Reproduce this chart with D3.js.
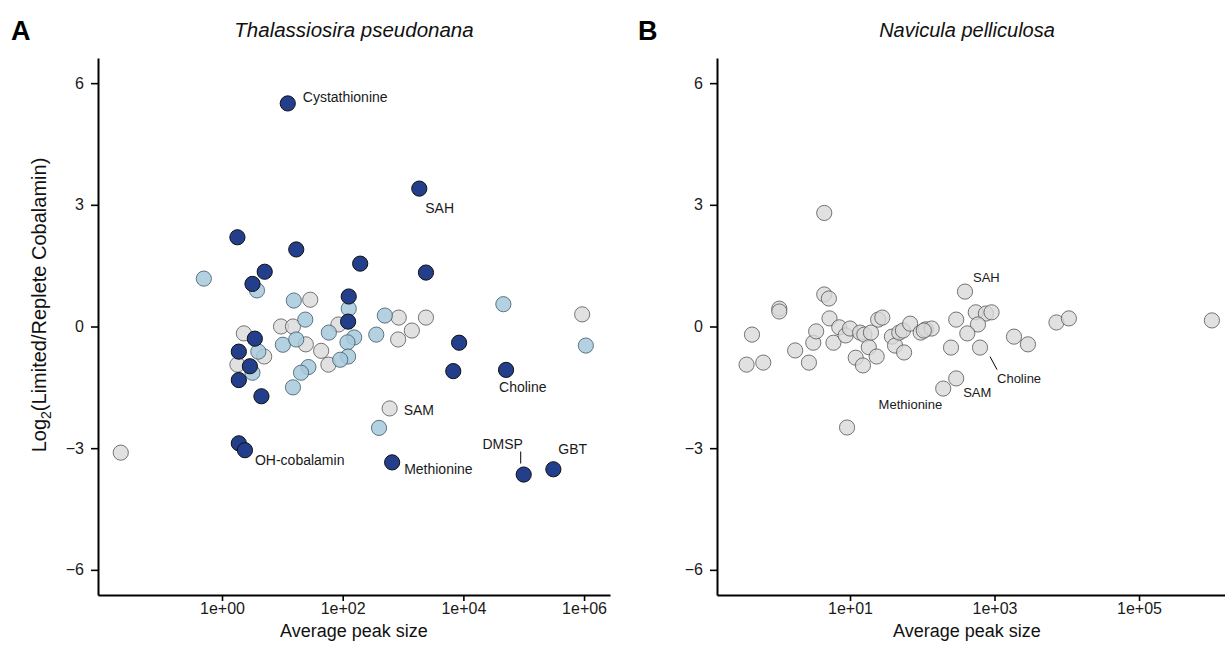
<!DOCTYPE html>
<html>
<head>
<meta charset="utf-8">
<script src="https://cdn.jsdelivr.net/npm/d3@7"></script>
<style>
  html, body { margin: 0; padding: 0; background: #fff; }
  svg { display: block; font-family: "Liberation Sans", Arial, Helvetica, sans-serif; }
</style>
</head>
<body>
<svg id="chart" width="1225" height="658"></svg>
<script>
// ---------------- DATA ----------------
// Panel A: Thalassiosira pseudonana
const tpPeak = [
  // grey
  0.021, 600, 930000, 2.3, 1.8, 5.0, 9.5, 29, 15, 24.5, 44, 58, 85, 850, 1400, 830, 2400,
  // light blue
  0.5, 3.8, 15.5, 126, 24, 500, 59, 360, 155, 120, 10.2, 17, 123, 91, 27, 20.4, 15, 3.2, 4.0, 400, 46000, 1070000,
  // dark navy
  12.3, 1860, 1.8, 17, 195, 5.1, 2400, 3.2, 126, 123, 3.5, 1.9, 2.9, 1.9, 4.5, 8500, 6800, 51000, 1.9, 2.4, 660, 100000, 310000
];
const tpLog2FC = [
  -3.11, -2.02, 0.30, -0.17, -0.94, -0.74, 0.00, 0.66, 0.00, -0.44, -0.60, -0.94, 0.05, 0.22, -0.10, -0.32, 0.22,
  1.18, 0.89, 0.64, 0.44, 0.17, 0.27, -0.15, -0.20, -0.27, -0.39, -0.45, -0.32, -0.74, -0.82, -1.00, -1.14, -1.50, -1.14, -0.62, -2.50, 0.55, -0.47,
  5.50, 3.40, 2.20, 1.90, 1.55, 1.35, 1.33, 1.05, 0.74, 0.12, -0.30, -0.62, -0.98, -1.32, -1.72, -0.40, -1.10, -1.07, -2.88, -3.05, -3.35, -3.65, -3.52
];
const tpGroup = [].concat(
  Array(17).fill("grey"),
  Array(22).fill("light"),
  Array(23).fill("dark")
);
const tpName = [
  "", "SAM", "", "", "", "", "", "", "", "", "", "", "", "", "", "", "",
  "", "", "", "", "", "", "", "", "", "", "", "", "", "", "", "", "", "", "", "", "", "",
  "Cystathionine", "SAH", "", "", "", "", "", "", "", "", "", "", "", "", "", "", "", "Choline", "", "OH-cobalamin", "Methionine", "DMSP", "GBT"
];

// Panel B: Navicula pelliculosa
const npPeak = [
  4.4, 4.4, 5.1, 1.05, 1.05, 0.44, 0.37, 0.63, 1.74, 2.7, 3.1, 3.4, 5.2, 5.9, 7.1, 8.7, 10, 12, 13.8, 15.1,
  15.8, 18.2, 19.5, 23.4, 24.5, 28, 9.1, 38, 42, 48, 54, 56, 68, 95, 112, 135, 105,
  195, 295, 390, 295, 550, 760, 910, 590, 420, 250, 630, 1860, 2900, 7200, 10700, 1020000
];
const npLog2FC = [
  2.80, 0.79, 0.69, 0.44, 0.37, -0.20, -0.94, -0.89, -0.59, -0.89, -0.40, -0.12, 0.20, -0.40, -0.02, -0.22, -0.05, -0.77, -0.15, -0.96,
  -0.20, -0.51, -0.15, -0.74, 0.17, 0.22, -2.49, -0.25, -0.47, -0.15, -0.10, -0.64, 0.07, -0.15, -0.07, -0.05, -0.10,
  -1.53, -1.28, 0.86, 0.17, 0.35, 0.32, 0.35, 0.05, -0.17, -0.52, -0.52, -0.25, -0.44, 0.10, 0.20, 0.15
];
const npName = npPeak.map(() => "");
npName[37] = "Methionine"; npName[38] = "SAM"; npName[39] = "SAH"; npName[47] = "Choline";

const yTicks = [-6, -3, 0, 3, 6];
const tpXTicks = [1e0, 1e2, 1e4, 1e6];
const npXTicks = [1e1, 1e3, 1e5];
const titles = ["Thalassiosira pseudonana", "Navicula pelliculosa"];
const panelLetters = ["A", "B"];
const xTitle = "Average peak size";

// ---------------- STYLE / LAYOUT ----------------
const fills = { grey: "#d9d9d9", light: "#a7c9dc", dark: "#233e8b" };
const strokes = { grey: "#555", light: "#3f5866", dark: "#111" };
const opac = { grey: 0.78, light: 0.85, dark: 1 };
const R = 7.6;

// label offsets (pixels relative to point)
const labelLayout = {
  A: {
    "Cystathionine": { dx: 15, dy: -1, anchor: "start" },
    "SAH": { dx: 6, dy: 24, anchor: "start" },
    "Choline": { dx: -7, dy: 22, anchor: "start" },
    "SAM": { dx: 14, dy: 7, anchor: "start" },
    "OH-cobalamin": { dx: 10, dy: 15, anchor: "start" },
    "Methionine": { dx: 12, dy: 12, anchor: "start" },
    "DMSP": { dx: -21, dy: -26, anchor: "middle", line: [-3, -23, -3, -11] },
    "GBT": { dx: 5, dy: -15, anchor: "start" }
  },
  B: {
    "SAH": { dx: 8, dy: -10, anchor: "start" },
    "Choline": { dx: 17, dy: 35, anchor: "start", line: [10, 9, 17, 22] },
    "SAM": { dx: 7, dy: 19, anchor: "start" },
    "Methionine": { dx: -1, dy: 20, anchor: "end" }
  }
};

const svg = d3.select("#chart");

function drawPanel(cfg) {
  const g = svg.append("g");
  const x = d3.scaleLog().domain(cfg.xDomain).range([cfg.left, cfg.right]);
  const y = d3.scaleLinear().domain([-6.62, 6.62]).range([595, 58]);

  const xAxis = d3.axisBottom(x).tickValues(cfg.xTicks)
    .tickFormat(d => {
      const e = Math.round(Math.log10(d));
      return "1e" + (e < 0 ? "-" : "+") + String(Math.abs(e)).padStart(2, "0");
    })
    .tickSize(6).tickPadding(2).tickSizeOuter(0);
  const yAxis = d3.axisLeft(y).tickValues(yTicks)
    .tickFormat(d => d < 0 ? "\u2212" + Math.abs(d) : String(d))
    .tickSize(7).tickPadding(7).tickSizeOuter(0);

  const gx = g.append("g").attr("transform", `translate(0,595)`).call(xAxis);
  const gy = g.append("g").attr("transform", `translate(${cfg.left},0)`).call(yAxis);
  [gx, gy].forEach(a => {
    a.attr("font-size", null).attr("font-family", null);
    a.select(".domain").attr("stroke", "#000").attr("stroke-width", 2);
    a.selectAll(".tick line").attr("stroke", "#000").attr("stroke-width", 1.6);
    a.selectAll(".tick text").attr("fill", "#1a1a1a").style("font-size", "16px");
  });
  gx.selectAll(".tick text").attr("dy", "0.7em");

  const data = cfg.peak.map((p, i) => ({ p, v: cfg.fc[i], grp: cfg.group[i], name: cfg.name[i] }));
  const order = { grey: 0, light: 1, dark: 2 };
  const sorted = data.slice().sort((a, b) => order[a.grp] - order[b.grp]);
  g.append("g").selectAll("circle").data(sorted).join("circle")
    .attr("cx", d => x(d.p)).attr("cy", d => y(d.v)).attr("r", R)
    .attr("fill", d => fills[d.grp]).attr("fill-opacity", d => opac[d.grp])
    .attr("stroke", d => strokes[d.grp]).attr("stroke-opacity", d => d.grp === "dark" ? 1 : 0.8)
    .attr("stroke-width", 1);

  const lab = g.append("g");
  data.filter(d => d.name).forEach(d => {
    const L = cfg.layout[d.name];
    const px = x(d.p), py = y(d.v);
    lab.append("text").attr("x", px + L.dx).attr("y", py + L.dy)
      .attr("text-anchor", L.anchor).style("font-size", cfg.labelSize + "px")
      .attr("fill", "#1a1a1a").text(d.name);
    if (L.line) {
      lab.append("line").attr("x1", px + L.line[0]).attr("y1", py + L.line[1])
        .attr("x2", px + L.line[2]).attr("y2", py + L.line[3])
        .attr("stroke", "#000").attr("stroke-width", 1);
    }
  });

  const cx = cfg.titleX;
  svg.append("text").attr("x", cx).attr("y", 37).attr("text-anchor", "middle")
    .style("font-style", "italic").style("font-size", cfg.titleSize + "px").attr("fill", "#111").text(cfg.title);
  svg.append("text").attr("x", cx).attr("y", 637).attr("text-anchor", "middle")
    .style("font-size", "18px").attr("fill", "#111").text(xTitle);
  svg.append("text").attr("x", cfg.letterX).attr("y", 40)
    .style("font-weight", "bold").style("font-size", "27px").attr("fill", "#000").text(cfg.letter);
}

drawPanel({
  left: 98, right: 610,
  xDomain: [Math.pow(10, -2.055), Math.pow(10, 6.43)],
  xTicks: tpXTicks, peak: tpPeak, fc: tpLog2FC, group: tpGroup, name: tpName,
  layout: labelLayout.A, labelSize: 14, titleSize: 20.5,
  title: titles[0], titleX: 354, letter: panelLetters[0], letterX: 11
});
drawPanel({
  left: 717, right: 1225,
  xDomain: [Math.pow(10, -0.841), Math.pow(10, 6.19)],
  xTicks: npXTicks, peak: npPeak, fc: npLog2FC, group: npPeak.map(() => "grey"), name: npName,
  layout: labelLayout.B, labelSize: 13, titleSize: 20,
  title: titles[1], titleX: 967, letter: panelLetters[1], letterX: 638
});

// y axis title (panel A)
const yt = svg.append("text").attr("transform", "translate(46,305) rotate(-90)")
  .attr("text-anchor", "middle").style("font-size", "20px").attr("fill", "#111");
yt.append("tspan").text("Log");
yt.append("tspan").attr("dy", 5).style("font-size", "14px").text("2");
yt.append("tspan").attr("dy", -5).text("(Limited/Replete Cobalamin)");
</script>
</body>
</html>
